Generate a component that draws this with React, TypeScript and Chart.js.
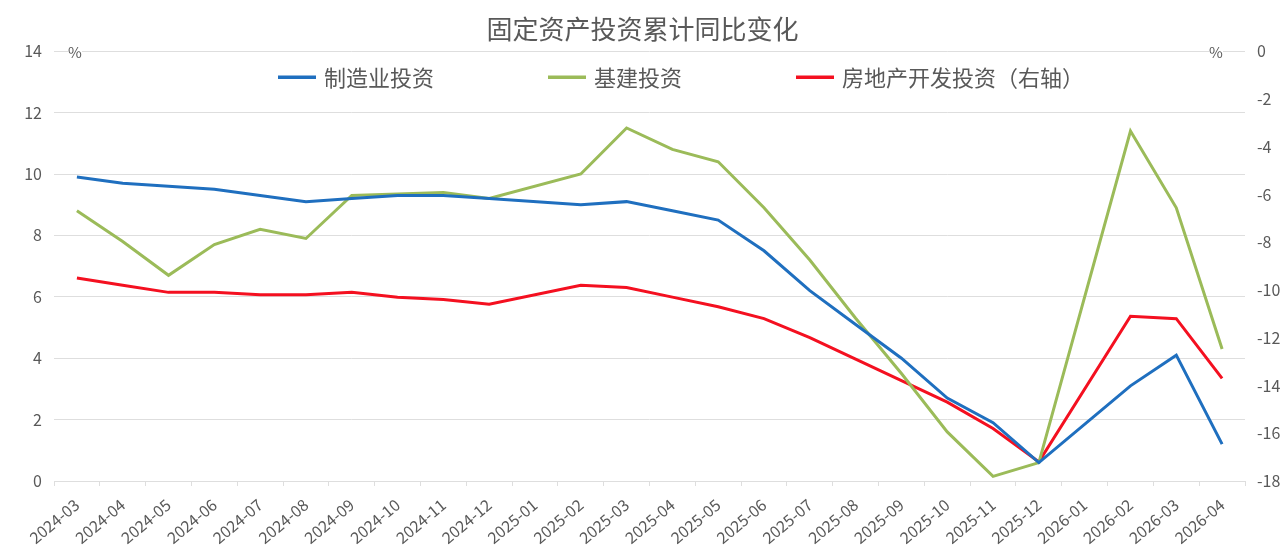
import React, { useEffect, useRef } from 'react';
import { Chart, registerables } from 'chart.js';

Chart.register(...registerables);

const FONT = "'Microsoft YaHei', 'Noto Sans CJK SC', 'Noto Sans', sans-serif";

const titleText = '固定资产投资累计同比变化';
const unitLabel = '%';

const categories = [
  '2024-03', '2024-04', '2024-05', '2024-06', '2024-07', '2024-08', '2024-09',
  '2024-10', '2024-11', '2024-12', '2025-01', '2025-02', '2025-03', '2025-04',
  '2025-05', '2025-06', '2025-07', '2025-08', '2025-09', '2025-10', '2025-11',
  '2025-12', '2026-01', '2026-02', '2026-03', '2026-04',
];

const seriesNames = ['制造业投资', '基建投资', '房地产开发投资（右轴）'];

const manufacturing = [
  9.9, 9.7, 9.6, 9.5, 9.3, 9.1, 9.2, 9.3, 9.3, 9.2, null, 9.0, 9.1, 8.8,
  8.5, 7.5, 6.2, 5.1, 4.0, 2.7, 1.9, 0.6, null, 3.1, 4.1, 1.2,
];

const infrastructure = [
  8.8, 7.8, 6.7, 7.7, 8.2, 7.9, 9.3, 9.35, 9.4, 9.2, null, 10.0, 11.5, 10.8,
  10.4, 8.9, 7.2, 5.3, 3.5, 1.6, 0.15, 0.6, null, 11.4, 8.9, 4.3,
];

const realEstate = [
  -9.5, -9.8, -10.1, -10.1, -10.2, -10.2, -10.1, -10.3, -10.4, -10.6, null, -9.8, -9.9, -10.3,
  -10.7, -11.2, -12.0, -12.9, -13.8, -14.7, -15.8, -17.2, null, -11.1, -11.2, -13.7,
];

const leftAxis = { min: 0, max: 14, step: 2 };
const rightAxis = { min: -18, max: 0, step: 2 };

const colors = ['#1f6fbf', '#9bbb59', '#f41020'];
const textColor = '#595959';
const gridColor = '#dedede';

const overlayPlugin = {
  id: 'overlayLegend',
  afterDatasetsDraw(chart: any) {
    const { ctx, chartArea } = chart;
    ctx.save();
    // legend
    ctx.font = `22px ${FONT}`;
    ctx.textBaseline = 'middle';
    ctx.textAlign = 'left';
    const y = chartArea.top + 26;
    let x = chartArea.left + 224;
    chart.data.datasets.forEach((ds: any) => {
      ctx.strokeStyle = ds.borderColor;
      ctx.lineWidth = 3.5;
      ctx.beginPath();
      ctx.moveTo(x, y);
      ctx.lineTo(x + 38, y);
      ctx.stroke();
      x += 46;
      ctx.fillStyle = textColor;
      ctx.fillText(ds.label, x, y);
      x += ctx.measureText(ds.label).width + 114;
    });
    // unit marks
    ctx.font = `15px ${FONT}`;
    ctx.textAlign = 'center';
    const marks = [chartArea.left + 21, chartArea.right - 29];
    marks.forEach((mx) => {
      ctx.fillStyle = '#ffffff';
      ctx.fillRect(mx - 7, chartArea.top - 5, 14, 12);
      ctx.fillStyle = textColor;
      ctx.fillText(unitLabel, mx, chartArea.top + 1);
    });
    ctx.restore();
  },
};

export default function App() {
  const ref = useRef<HTMLCanvasElement>(null);

  useEffect(() => {
    if (!ref.current) return;
    const chart = new Chart(ref.current, {
      type: 'line',
      data: {
        labels: categories,
        datasets: [
          {
            label: seriesNames[0],
            data: manufacturing,
            borderColor: colors[0],
            backgroundColor: colors[0],
            yAxisID: 'y',
          },
          {
            label: seriesNames[1],
            data: infrastructure,
            borderColor: colors[1],
            backgroundColor: colors[1],
            yAxisID: 'y',
          },
          {
            label: seriesNames[2],
            data: realEstate,
            borderColor: colors[2],
            backgroundColor: colors[2],
            yAxisID: 'y1',
          },
        ] as any,
      },
      options: {
        animation: false,
        responsive: true,
        maintainAspectRatio: false,
        spanGaps: true,
        elements: {
          line: { borderWidth: 3, tension: 0 },
          point: { radius: 0, hoverRadius: 0 },
        },
        layout: { padding: 0 },
        plugins: {
          legend: { display: false },
          tooltip: { enabled: false },
          title: {
            display: true,
            text: titleText,
            color: textColor,
            font: { size: 26, weight: 'normal', family: FONT },
            padding: { top: 14, bottom: 6 },
          },
        },
        scales: {
          x: {
            type: 'category',
            offset: true,
            grid: {
              display: true,
              drawOnChartArea: false,
              drawTicks: true,
              tickLength: 5,
              color: gridColor,
              offset: true,
            },
            border: { display: true, color: gridColor },
            ticks: {
              autoSkip: false,
              maxRotation: 40,
              minRotation: 40,
              padding: 9,
              color: textColor,
              font: { size: 16, family: FONT },
            },
            afterFit: (s: any) => {
              s.height = 68;
            },
          },
          y: {
            position: 'left',
            min: leftAxis.min,
            max: leftAxis.max,
            ticks: {
              stepSize: leftAxis.step,
              padding: 12,
              color: textColor,
              font: { size: 16, family: FONT },
            },
            grid: { color: gridColor, drawTicks: false },
            border: { display: false },
            afterFit: (s: any) => {
              s.width = 54;
            },
          },
          y1: {
            position: 'right',
            min: rightAxis.min,
            max: rightAxis.max,
            ticks: {
              stepSize: rightAxis.step,
              padding: 12,
              color: textColor,
              font: { size: 16, family: FONT },
            },
            grid: { drawOnChartArea: false, drawTicks: false },
            border: { display: false },
            afterFit: (s: any) => {
              s.width = 40;
            },
          },
        },
      } as any,
      plugins: [overlayPlugin],
    });
    return () => chart.destroy();
  }, []);

  return (
    <div style={{ position: 'absolute', left: 0, top: 0, width: 1285, height: 549, background: '#ffffff' }}>
      <canvas ref={ref} />
    </div>
  );
}
